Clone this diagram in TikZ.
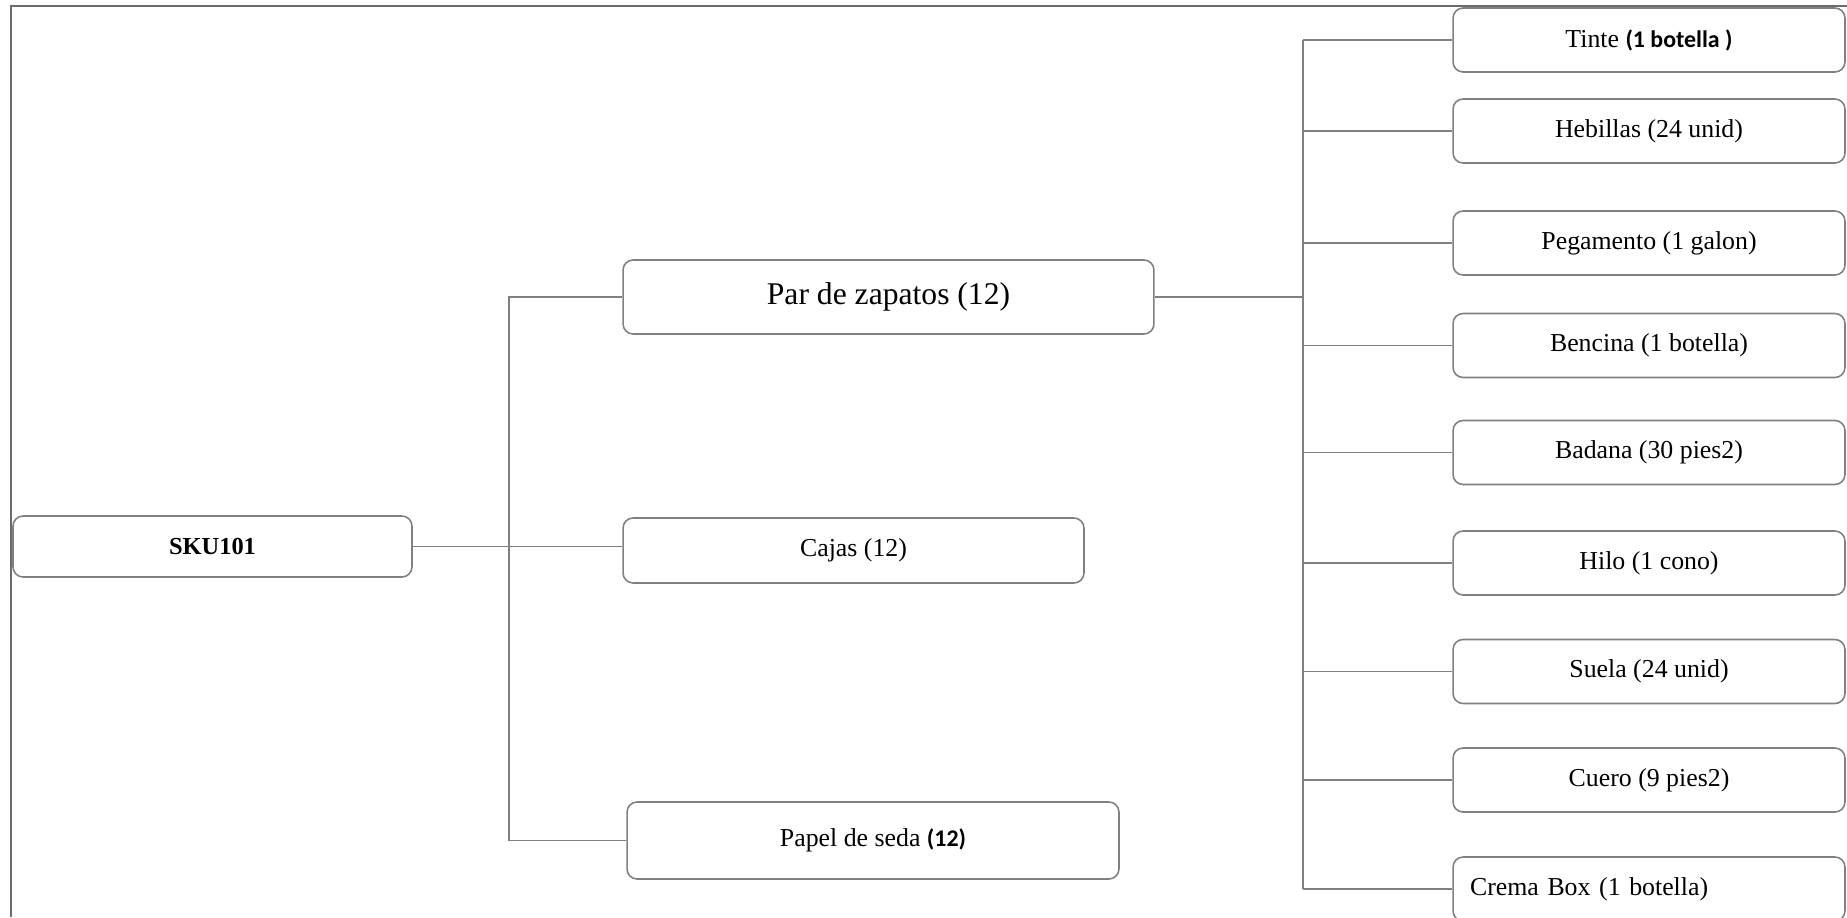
\documentclass[tikz,border=0pt]{standalone}
\usepackage{fontspec}
\setmainfont{Liberation Serif}
\newfontfamily\calibri{Carlito}
\begin{document}
\begin{tikzpicture}[x=0.02cm, y=-0.02cm,
        caja/.style={draw=gray, line width=0.9pt, rounded corners=0.2cm, fill=white, inner sep=0pt, font=\fontsize{14.7}{17}\selectfont},
        insumo/.style={caja, minimum width=7.84cm, minimum height=1.28cm},
        linea/.style={draw=gray, line width=0.9pt}]
        \useasboundingbox (0,0) rectangle (1847,917);
        \draw[gray!85!black, line width=1.7pt] (11,917) -- (11,6) -- (1847,6);
        % columna izquierda
        \node[caja, minimum width=7.98cm, minimum height=1.22cm, font=\bfseries\fontsize{13.9}{17}\selectfont] (sku) at (212.5,546.5) {SKU101};
        \node[caja, minimum width=10.62cm, minimum height=1.48cm, font=\fontsize{18}{21}\selectfont] (par) at (888.5,297) {Par de zapatos (12)};
        \node[caja, minimum width=9.22cm, minimum height=1.3cm] (cajas) at (853.5,550.5) {Cajas (12)};
        \node[caja, minimum width=9.84cm, minimum height=1.54cm] (papel) at (873,840.5) {Papel de seda {\calibri\bfseries\fontsize{13.6}{17}\selectfont(12)}};
        % insumos
        \node[insumo] (tinte) at (1649,40) {Tinte {\calibri\bfseries\fontsize{13.6}{17}\selectfont(1 botella )}};
        \node[insumo] (hebillas) at (1649,131) {Hebillas (24 unid)};
        \node[insumo] (pegamento) at (1649,243) {Pegamento (1 galon)};
        \node[insumo] (bencina) at (1649,345.5) {Bencina (1 botella)};
        \node[insumo] (badana) at (1649,452.5) {Badana (30 pies2)};
        \node[insumo] (hilo) at (1649,563) {Hilo (1 cono)};
        \node[insumo] (suela) at (1649,671.5) {Suela (24 unid)};
        \node[insumo] (cuero) at (1649,780) {Cuero (9 pies2)};
        \node[insumo, text width=7.16cm, align=left, inner xsep=0.34cm] (crema) at (1649,889) {Crema Box (1 botella)};
        % conectores
        \coordinate (bus1) at (509,0);
        \coordinate (bus2) at (1303,0);
        \draw[linea] (sku.east) -- (sku.east -| cajas.west);
        \draw[linea] (par.west) -- (par.west -| bus1) |- (papel.west);
        \draw[linea] (par.east) -- (par.east -| bus2);
        \draw[linea] (tinte.west -| bus2) -- (crema.west -| bus2);
        \foreach \n in {tinte,hebillas,pegamento,bencina,badana,hilo,suela,cuero,crema}
            \draw[linea] (\n.west) -- (\n.west -| bus2);
        \end{tikzpicture}
\end{document}
